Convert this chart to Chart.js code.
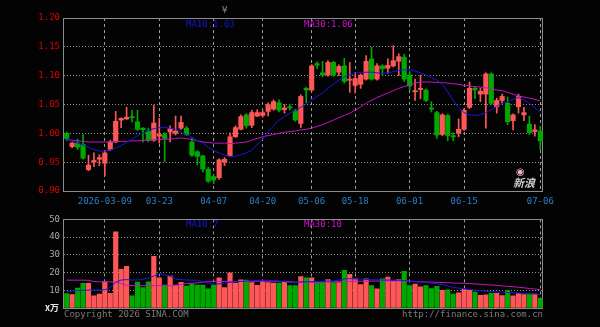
<!DOCTYPE html>
<html><head><meta charset="utf-8">
<script src="https://cdn.jsdelivr.net/npm/chart.js@4/dist/chart.umd.min.js"></script>
<style>
html,body{margin:0;padding:0;background:#030303;width:600px;height:327px;overflow:hidden}
canvas{position:absolute;left:0}
#c1{top:0}
#c2{top:210px}
.t{position:absolute;font:9px "DejaVu Sans Mono",monospace;white-space:nowrap;line-height:9px}
</style></head><body>
<canvas id="c1" width="600" height="210"></canvas>
<canvas id="c2" width="600" height="117"></canvas>
<div class="t" style="left:222px;top:6px;color:#8a8a8a">¥</div>
<div class="t" style="left:186px;top:20px;color:#1616d8">MA10:1.03</div>
<div class="t" style="left:304px;top:20px;color:#d010d0">MA30:1.06</div>
<div class="t" style="left:186px;top:220px;color:#1616d8">MA10:7</div>
<div class="t" style="left:304px;top:220px;color:#d010d0">MA30:10</div>
<div class="t" style="left:45px;top:303px;color:#e8e8e8;font-family:'Noto Sans CJK SC';font-weight:bold">x万</div>
<div class="t" style="left:64px;top:310px;color:#7c7c7c">Copyright 2026 SINA.COM</div>
<div class="t" style="right:57px;top:310px;color:#7c7c7c">http://finance.sina.com.cn</div>
<div class="t" style="left:516px;top:166px;color:#f0b0c0;font:bold 10px 'DejaVu Sans'">◉</div>
<div class="t" style="left:513px;top:177px;color:#cfcfcf;font:italic bold 11px 'Noto Sans CJK SC';line-height:11px">新浪</div>
<script>
const dates = ['2026-02-26','2026-02-27','2026-03-02','2026-03-03','2026-03-04','2026-03-05','2026-03-06',
'2026-03-09','2026-03-10','2026-03-11','2026-03-12','2026-03-13','2026-03-16','2026-03-17','2026-03-18','2026-03-19','2026-03-20',
'2026-03-23','2026-03-24','2026-03-25','2026-03-26','2026-03-27','2026-03-30','2026-03-31','2026-04-01','2026-04-02','2026-04-03',
'2026-04-07','2026-04-08','2026-04-09','2026-04-10','2026-04-13','2026-04-14','2026-04-15','2026-04-16','2026-04-17',
'2026-04-20','2026-04-21','2026-04-22','2026-04-23','2026-04-24','2026-04-27','2026-04-28','2026-04-29','2026-04-30',
'2026-05-06','2026-05-07','2026-05-08','2026-05-11','2026-05-12','2026-05-13','2026-05-14','2026-05-15',
'2026-05-18','2026-05-19','2026-05-20','2026-05-21','2026-05-22','2026-05-25','2026-05-26','2026-05-27','2026-05-28','2026-05-29',
'2026-06-01','2026-06-02','2026-06-03','2026-06-04','2026-06-05','2026-06-08','2026-06-09','2026-06-10','2026-06-11','2026-06-12',
'2026-06-15','2026-06-16','2026-06-17','2026-06-18','2026-06-22','2026-06-23','2026-06-24','2026-06-25','2026-06-26',
'2026-06-29','2026-06-30','2026-07-01','2026-07-02','2026-07-03','2026-07-06'];

const tickDates = ['2026-03-09','2026-03-23','2026-04-07','2026-04-20','2026-05-06','2026-05-18','2026-06-01','2026-06-15','2026-07-06'];
const tickTexts = ['2026-03-09','03-23','04-07','04-20','05-06','05-18','06-01','06-15','07-06'];

const opens = [1.000,0.977,0.983,0.981,0.937,0.950,0.955,0.948,0.972,0.985,1.023,1.025,1.029,1.020,1.009,1.004,0.988,0.995,0.998,1.002,1.000,1.009,
1.009,0.985,0.968,0.961,0.938,0.925,0.923,0.950,0.961,0.994,1.007,1.032,1.014,1.030,1.031,1.038,1.042,1.053,1.041,1.046,1.039,1.017,
1.078,1.075,1.121,1.105,1.101,1.123,1.106,1.117,1.092,1.083,1.085,1.094,1.129,1.094,1.117,1.113,1.117,1.125,1.132,1.101,1.072,1.076,
1.075,1.044,1.036,0.998,1.031,0.996,1.000,1.007,1.045,1.078,1.068,1.068,1.103,1.046,1.057,1.052,1.022,1.046,1.032,1.016,1.003,1.004];
const highs = [1.002,0.985,0.990,0.998,0.962,0.966,0.963,0.970,0.988,1.038,1.027,1.045,1.040,1.040,1.010,1.009,1.049,1.026,1.001,1.013,1.030,1.030,
1.012,0.992,0.970,0.962,0.941,0.928,0.956,0.958,1.001,1.013,1.032,1.034,1.040,1.041,1.040,1.053,1.058,1.058,1.050,1.050,1.042,1.067,
1.080,1.119,1.124,1.125,1.126,1.125,1.119,1.130,1.123,1.105,1.103,1.135,1.150,1.121,1.119,1.129,1.152,1.138,1.137,1.107,1.094,1.101,
1.077,1.055,1.038,1.034,1.033,1.001,1.025,1.043,1.089,1.080,1.078,1.105,1.105,1.061,1.068,1.063,1.034,1.068,1.045,1.030,1.015,1.012];
const lows = [0.988,0.975,0.972,0.955,0.935,0.942,0.944,0.926,0.970,0.984,1.010,1.024,1.020,1.005,0.985,0.985,0.986,0.983,0.951,0.985,0.997,1.007,
0.996,0.960,0.945,0.933,0.915,0.913,0.920,0.944,0.960,0.993,1.006,1.009,1.010,1.029,1.028,1.030,1.040,1.037,1.035,1.040,1.021,1.010,
1.053,1.073,1.112,1.098,1.099,1.099,1.100,1.087,1.071,1.070,1.078,1.092,1.092,1.092,1.101,1.104,1.115,1.100,1.090,1.075,1.057,1.060,
1.055,1.037,0.991,0.996,0.987,0.987,0.994,1.005,1.043,1.060,1.055,1.009,1.050,1.035,1.052,1.015,1.006,1.035,1.022,0.998,0.995,0.972];
const closes = [0.991,0.983,0.976,0.957,0.945,0.953,0.958,0.966,0.985,1.021,1.026,1.028,1.027,1.007,1.006,0.988,1.018,0.998,0.991,1.008,1.004,1.019,
0.998,0.962,0.960,0.938,0.917,0.919,0.954,0.955,0.994,1.010,1.029,1.013,1.036,1.036,1.036,1.050,1.055,1.040,1.044,1.044,1.023,1.064,
1.075,1.117,1.118,1.101,1.123,1.102,1.116,1.090,1.094,1.095,1.101,1.125,1.094,1.117,1.112,1.118,1.126,1.133,1.094,1.082,1.074,1.078,
1.057,1.042,0.997,1.032,0.996,0.994,1.007,1.040,1.078,1.075,1.073,1.103,1.052,1.057,1.064,1.020,1.032,1.064,1.036,1.001,1.006,0.987];

const ma10 = [0.991,0.987,0.983,0.980,0.976,0.972,0.969,0.969,0.971,0.975,0.979,0.984,0.990,0.996,1.000,1.005,1.008,1.010,1.010,1.009,1.007,1.002,
0.998,0.993,0.987,0.983,0.976,0.970,0.966,0.962,0.960,0.960,0.963,0.966,0.971,0.980,0.990,1.003,1.013,1.023,1.029,1.035,1.040,1.045,
1.051,1.058,1.064,1.070,1.078,1.085,1.092,1.098,1.101,1.104,1.106,1.106,1.106,1.105,1.104,1.105,1.107,1.109,1.110,1.110,1.108,1.105,
1.101,1.097,1.092,1.085,1.072,1.057,1.044,1.036,1.032,1.031,1.032,1.036,1.041,1.047,1.052,1.055,1.059,1.062,1.058,1.052,1.044,1.036];
const ma30 = [0.989,0.988,0.987,0.986,0.985,0.985,0.985,0.985,0.985,0.986,0.986,0.986,0.987,0.987,0.988,0.988,0.989,0.989,0.990,0.990,0.991,0.992,
0.991,0.989,0.987,0.985,0.984,0.983,0.983,0.983,0.982,0.983,0.984,0.985,0.988,0.991,0.994,0.996,0.998,1.000,1.002,1.003,1.004,1.006,
1.007,1.009,1.012,1.015,1.019,1.023,1.027,1.031,1.035,1.040,1.046,1.052,1.057,1.062,1.066,1.070,1.074,1.078,1.081,1.084,1.087,1.089,
1.089,1.089,1.088,1.088,1.087,1.086,1.085,1.083,1.082,1.081,1.080,1.079,1.077,1.075,1.074,1.071,1.068,1.065,1.063,1.061,1.059,1.056];

const volumes = [8.1,7.6,11.3,13.9,13.9,6.8,7.9,14.6,8.3,43.0,21.8,23.5,6.8,14.6,11.5,14.8,29.2,17.0,13.0,18.0,13.0,14.5,
12.4,13.5,13.0,13.0,10.8,13.0,17.0,11.5,19.8,14.0,15.9,15.8,14.3,12.8,14.5,14.3,14.0,14.0,14.5,12.6,12.6,17.7,
17.0,17.0,14.3,14.3,16.0,14.3,14.3,21.3,19.0,16.5,13.2,16.5,12.6,10.8,16.5,17.4,15.2,16.1,20.7,12.6,13.5,11.9,
12.6,10.9,12.2,10.0,10.2,7.9,8.5,10.5,10.0,9.0,7.2,7.4,8.3,8.3,7.0,9.8,6.8,8.3,7.6,7.8,7.8,5.4];
const vma10 = [9.2,9.5,9.8,10.0,10.1,10.2,10.2,10.3,11.5,14.5,15.8,16.0,15.8,15.8,16.2,17.0,18.0,19.3,19.0,17.8,16.3,16.0,
15.8,15.7,15.7,15.0,13.8,13.5,13.6,14.0,14.5,14.8,15.0,15.2,15.3,15.6,15.7,15.6,15.4,15.2,14.9,14.3,14.4,14.8,
14.8,14.9,15.0,15.1,15.2,15.3,15.8,16.4,16.6,16.4,16.2,16.1,16.0,15.9,15.8,15.8,15.7,15.7,15.5,15.2,14.9,14.6,
14.3,14.0,13.7,13.2,12.4,11.7,11.2,10.8,10.5,10.1,9.7,9.5,9.3,9.1,8.9,8.7,8.6,8.4,8.2,8.0,7.9,7.6];
const vma30 = [15.7,15.7,15.7,15.7,15.6,15.0,14.8,14.8,14.8,14.5,13.8,12.8,12.6,12.6,12.6,12.6,12.6,12.6,12.6,12.6,12.7,13.2,
13.8,14.0,14.2,14.6,14.8,15.0,15.0,15.0,15.0,15.0,15.0,15.0,15.0,15.1,15.1,15.1,15.1,15.0,15.0,14.8,14.6,14.4,
14.3,14.4,14.5,14.6,14.7,14.8,14.9,15.0,15.0,15.1,15.1,15.1,15.2,15.2,15.3,15.3,15.3,15.3,15.2,15.1,14.9,14.8,
14.7,14.6,14.5,14.4,14.3,14.1,14.0,13.9,13.8,13.6,13.4,13.2,13.0,12.8,12.5,12.2,12.0,11.7,11.4,11.0,10.7,10.3];

const UP = '#ff5757', DOWN = '#00a800';
const colors = opens.map((o, i) => closes[i] >= o ? UP : DOWN);
const bodies = opens.map((o, i) => [Math.min(o, closes[i]), Math.max(o, closes[i])]);
const wicks = lows.map((l, i) => [l, highs[i]]);
const tickIdx = tickDates.map(d => dates.indexOf(d));
const tickLabelAt = i => { const k = tickIdx.indexOf(i); return k >= 0 ? tickTexts[k] : ''; };

const FONT = {family: "'DejaVu Sans Mono', monospace", size: 9};
const frame = {
  id: 'frame',
  beforeDatasetsDraw(chart) {
    const {ctx, chartArea: a} = chart;
    ctx.save();
    ctx.strokeStyle = '#8c8c8c';
    ctx.lineWidth = 1;
    ctx.strokeRect(Math.round(a.left) - 0.5, Math.round(a.top) + 0.5, Math.round(a.right - a.left), Math.round(a.bottom - a.top));
    ctx.restore();
  }
};

function xScale(showLabels) {
  return {
    offset: true,
    grid: {offset: false, drawTicks: false, lineWidth: 1,
      color: c => (tickIdx.indexOf(c.index) >= 0 ? '#9a9a9a' : 'rgba(0,0,0,0)')},
    border: {display: false, dash: [3, 3]},
    ticks: {display: showLabels, autoSkip: false, maxRotation: 0, minRotation: 0, padding: 5, color: '#2680cc', font: FONT,
      callback: (v, i) => tickLabelAt(i)},
    afterFit: s => { s.height = 19; }
  };
}
const common = {
  responsive: false, animation: false, events: [],
  plugins: {legend: {display: false}, tooltip: {enabled: false}},
};

new Chart(document.getElementById('c1'), {
  type: 'bar',
  data: {labels: dates, datasets: [
    {type: 'line', data: ma10, borderColor: '#1818e0', borderWidth: 1, pointRadius: 0, tension: 0, order: 0},
    {type: 'line', data: ma30, borderColor: '#c414c4', borderWidth: 1, pointRadius: 0, tension: 0, order: 0},
    {data: bodies, backgroundColor: colors, barThickness: 4.5, grouped: false, minBarLength: 1, order: 1},
    {data: wicks, backgroundColor: colors, barThickness: 1, grouped: false, minBarLength: 1, order: 2}
  ]},
  options: Object.assign({}, common, {
    layout: {padding: {left: 0, right: 57, top: 18, bottom: 0}},
    scales: {
      x: xScale(true),
      y: {min: 0.9, max: 1.2,
        ticks: {stepSize: 0.05, color: '#e00000', padding: 4, font: FONT, callback: v => Number(v).toFixed(2)},
        grid: {drawTicks: false, lineWidth: 1, color: c => (c.tick && c.tick.value > 0.901 && c.tick.value < 1.199 ? '#8a8a8a' : 'rgba(0,0,0,0)')},
        border: {display: false, dash: [1, 2]},
        afterFit: s => { s.width = 64; }}
    }
  }),
  plugins: [frame]
});

new Chart(document.getElementById('c2'), {
  type: 'bar',
  data: {labels: dates, datasets: [
    {type: 'line', data: vma10, borderColor: '#1818e0', borderWidth: 1, pointRadius: 0, tension: 0, order: 0},
    {type: 'line', data: vma30, borderColor: '#c414c4', borderWidth: 1, pointRadius: 0, tension: 0, order: 0},
    {data: volumes, backgroundColor: colors, barThickness: 4.5, grouped: false, order: 1}
  ]},
  options: Object.assign({}, common, {
    layout: {padding: {left: 0, right: 57, top: 8, bottom: 0}},
    scales: {
      x: xScale(false),
      y: {min: 0, max: 50,
        ticks: {stepSize: 10, color: '#a6a6a6', padding: 4, font: FONT, callback: v => (v === 0 ? '' : String(v))},
        grid: {drawTicks: false, lineWidth: 1, color: c => (c.tick && c.tick.value > 0 && c.tick.value < 50 ? '#8a8a8a' : 'rgba(0,0,0,0)')},
        border: {display: false, dash: [1, 2]},
        afterFit: s => { s.width = 64; }}
    }
  }),
  plugins: [frame]
});
</script>
</body></html>
